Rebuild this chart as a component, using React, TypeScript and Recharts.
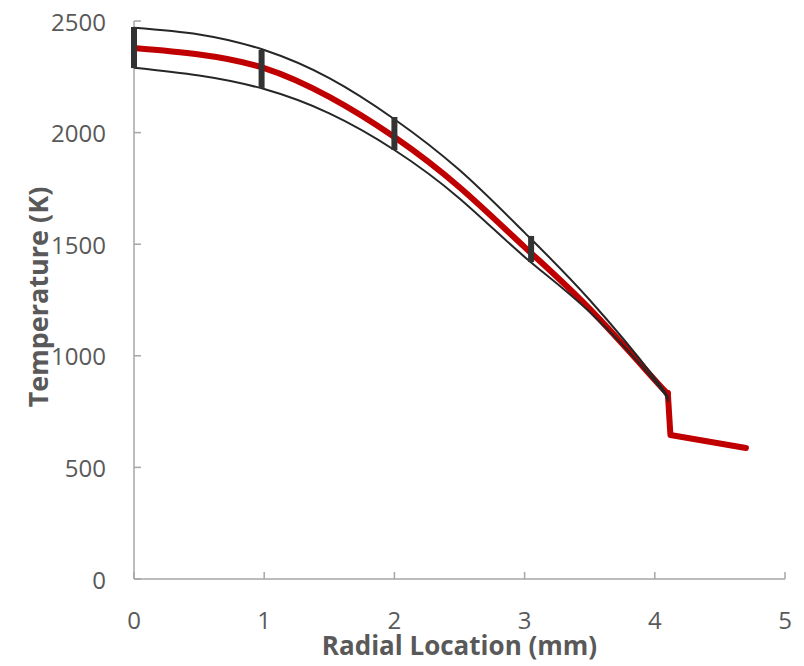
import React from "react";
import {
  ComposedChart, Line, Scatter, ErrorBar, XAxis, YAxis,
} from "recharts";

// radial position (mm) and temperatures (K)
const radius = [0, 0.5, 1, 1.5, 2, 2.5, 3, 3.5, 4, 4.1];
const meanTemp = [2379, 2350, 2289, 2160, 1980, 1755, 1487, 1210, 892, 833];
const upperTemp = [2470, 2440, 2370, 2244, 2060, 1832, 1552, 1250, 900, 806];
const lowerTemp = [2291, 2256, 2195, 2086, 1922, 1705, 1443, 1196, 885, 793];

// cladding part after the gap
const tailRadius = [4.1, 4.12, 4.7];
const tailTemp = [833, 645, 587];

// measured ranges (error bars)
const barRadius = [0, 0.98, 2.0, 3.05];
const barLow = [2289, 2200, 1922, 1420];
const barHigh = [2473, 2370, 2070, 1537];

const xTicks = [0, 1, 2, 3, 4, 5];
const yTicks = [0, 500, 1000, 1500, 2000, 2500];

const AXIS = "#a6a6a6";
const TEXT = "#595959";
const FONT = "'Open Sans', sans-serif";

const toSeries = (xs: number[], ys: number[]) => xs.map((r, i) => ({ r, t: ys[i] }));

const meanData = toSeries(radius, meanTemp);
const upperData = toSeries(radius, upperTemp);
const lowerData = toSeries(radius, lowerTemp);
const tailData = toSeries(tailRadius, tailTemp);
const barData = barRadius.map((r, i) => {
  const mid = (barLow[i] + barHigh[i]) / 2;
  return { r, t: mid, e: [mid - barLow[i], barHigh[i] - mid] };
});

function XTick({ x, y, payload }: any) {
  return (
    <g>
      <line x1={x} x2={x} y1={y} y2={y - 7} stroke={AXIS} strokeWidth={1.5} />
      <text x={x} y={y + 40} textAnchor="middle" dominantBaseline="central"
        fill={TEXT} fontSize={24} fontFamily={FONT}>{payload.value}</text>
    </g>
  );
}

function YTick({ x, y, payload }: any) {
  return (
    <g>
      <line x1={x} x2={x + 7} y1={y} y2={y} stroke={AXIS} strokeWidth={1.5} />
      <text x={x - 28} y={y} textAnchor="end" dominantBaseline="central"
        fill={TEXT} fontSize={24} fontFamily={FONT}>{payload.value}</text>
    </g>
  );
}

export default function App() {
  return (
    <div style={{ position: "absolute", left: 0, top: 0, background: "#fff" }}>
      <ComposedChart width={804} height={666} margin={{ top: 21, right: 19, bottom: 27, left: 74 }}>
        <XAxis
          type="number" dataKey="r" domain={[0, 5]} ticks={xTicks} height={60}
          axisLine={{ stroke: AXIS, strokeWidth: 1.5 }} tickLine={false}
          tickSize={0} tickMargin={0} tick={<XTick />}
          label={{
            content: ({ viewBox }: any) => (
              <text x={viewBox.x + viewBox.width / 2} y={viewBox.y + 66} textAnchor="middle"
                dominantBaseline="central" fill={TEXT} fontSize={26} fontWeight="bold" fontFamily={FONT}>
                Radial Location (mm)
              </text>
            ),
          }}
        />
        <YAxis
          type="number" domain={[0, 2500]} ticks={yTicks} width={60}
          axisLine={{ stroke: AXIS, strokeWidth: 1.5 }} tickLine={false}
          tickSize={0} tickMargin={0} tick={<YTick />}
          label={{
            content: ({ viewBox }: any) => {
              const cx = viewBox.x + viewBox.width - 97;
              const cy = viewBox.y + viewBox.height / 2 - 3;
              return (
                <text x={cx} y={cy} transform={`rotate(-90, ${cx}, ${cy})`} textAnchor="middle"
                  dominantBaseline="central" fill={TEXT} fontSize={27} fontWeight="bold" fontFamily={FONT}>
                  Temperature (K)
                </text>
              );
            },
          }}
        />
        <Line data={meanData} dataKey="t" type="natural" stroke="#c00000" strokeWidth={6} zIndex={600}
          strokeLinecap="round" dot={false} activeDot={false} isAnimationActive={false} />
        <Line data={tailData} dataKey="t" type="linear" stroke="#c00000" strokeWidth={6} zIndex={600}
          strokeLinecap="round" strokeLinejoin="round" dot={false} activeDot={false} isAnimationActive={false} />
        <Line data={upperData} dataKey="t" type="natural" stroke="#262626" strokeWidth={2} zIndex={610}
          dot={false} activeDot={false} isAnimationActive={false} />
        <Line data={lowerData} dataKey="t" type="natural" stroke="#262626" strokeWidth={2} zIndex={610}
          dot={false} activeDot={false} isAnimationActive={false} />
        <Scatter data={barData} dataKey="t" shape={() => <g />} isAnimationActive={false} zIndex={700}>
          <ErrorBar dataKey="e" direction="y" width={0} stroke="#333333" strokeWidth={6}
            isAnimationActive={false} zIndex={700} />
        </Scatter>
      </ComposedChart>
    </div>
  );
}
